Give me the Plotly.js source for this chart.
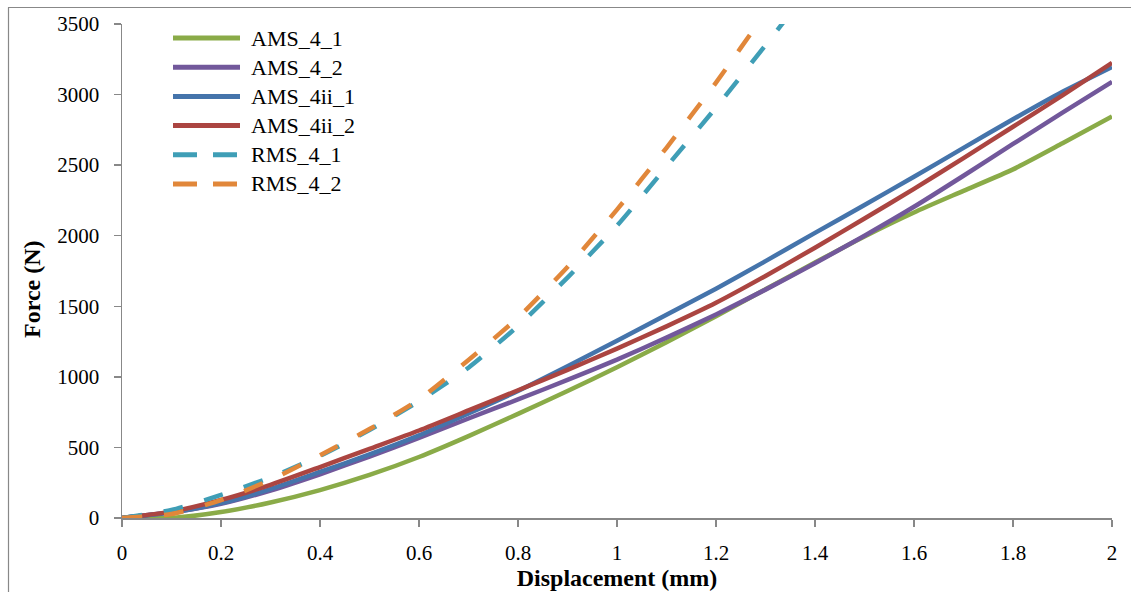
<!DOCTYPE html>
<html>
<head>
<meta charset="utf-8">
<script src="https://cdn.plot.ly/plotly-3.0.1.min.js"></script>
<style>
  html, body { margin: 0; padding: 0; background: #ffffff; }
  #chart { width: 1131px; height: 592px; }
</style>
</head>
<body>
<div id="chart"></div>
<script>
// Force–displacement curves of the AMS and RMS specimens
const seriesNames = ['AMS_4_1', 'AMS_4_2', 'AMS_4ii_1', 'AMS_4ii_2', 'RMS_4_1', 'RMS_4_2'];

// Displacement (mm) sampling of the AMS tests
const dispAms = [0, 0.1, 0.2, 0.3, 0.4, 0.5, 0.6, 0.7, 0.8, 0.9, 1.0,
                 1.1, 1.2, 1.3, 1.4, 1.5, 1.6, 1.7, 1.8, 1.9, 2.0];
// Displacement (mm) sampling of the RMS tests
const dispRms = [0, 0.1, 0.2, 0.3, 0.4, 0.5, 0.6, 0.7, 0.8, 0.9, 1.0,
                 1.1, 1.2, 1.3, 1.4];

// Force (N)
const forceAms4_1   = [0, 0, 42, 110, 198, 305, 432, 580, 738, 900, 1068,
                       1245, 1430, 1620, 1810, 1995, 2165, 2318, 2470, 2655, 2845];
const forceAms4_2   = [0, 40, 100, 195, 310, 435, 567, 705, 840, 978, 1122,
                       1278, 1442, 1618, 1805, 2000, 2205, 2425, 2650, 2872, 3090];
const forceAms4ii_1 = [0, 40, 105, 205, 326, 450, 585, 740, 900, 1075, 1255,
                       1440, 1625, 1820, 2020, 2218, 2418, 2622, 2825, 3020, 3196];
const forceAms4ii_2 = [0, 45, 128, 235, 361, 490, 620, 762, 905, 1050, 1200,
                       1358, 1525, 1715, 1915, 2122, 2332, 2550, 2772, 2995, 3225];
const forceRms4_1   = [0, 57, 164, 288, 440, 623, 828, 1065, 1361, 1703, 2071,
                       2489, 2908, 3350, 3800];
const forceRms4_2   = [0, 28, 127, 270, 445, 630, 840, 1120, 1420, 1779, 2185,
                       2623, 3085, 3580, 4080];

const xTickVals = [0, 0.2, 0.4, 0.6, 0.8, 1, 1.2, 1.4, 1.6, 1.8, 2];
const xTickText = ['0', '0.2', '0.4', '0.6', '0.8', '1', '1.2', '1.4', '1.6', '1.8', '2'];
const yTickVals = [0, 500, 1000, 1500, 2000, 2500, 3000, 3500];
const yTickText = ['0', '500', '1000', '1500', '2000', '2500', '3000', '3500'];

const colors = ['#8aab48', '#72589b', '#4574ab', '#ab4541', '#3f9eb6', '#e1873a'];
const dashes = ['solid', 'solid', 'solid', 'solid', '20px,22px', '20px,22px'];

const xs = [dispAms, dispAms, dispAms, dispAms, dispRms, dispRms];
const ys = [forceAms4_1, forceAms4_2, forceAms4ii_1, forceAms4ii_2, forceRms4_1, forceRms4_2];

const FONT = 'Liberation Serif, Times New Roman, serif';
const AXIS_GREY = '#888888';

const traces = seriesNames.map((name, i) => ({
  type: 'scatter',
  mode: 'lines',
  name: name,
  x: xs[i],
  y: ys[i],
  line: { color: colors[i], width: 4.5, dash: dashes[i], shape: 'spline', smoothing: 0.6 },
  showlegend: false,
  hoverinfo: 'skip'
}));

// Figure geometry (pixels)
const W = 1131, H = 592;
const M = { l: 122, r: 19, t: 24, b: 74 };
const PW = W - M.l - M.r, PH = H - M.t - M.b;
const px2x = (px) => (px - M.l) / PW;
const px2y = (py) => (H - M.b - py) / PH;

// Key inside the plot area, upper left
const shapes = [];
const annotations = [];
seriesNames.forEach((name, i) => {
  const yy = px2y(38 + i * 29.2);
  shapes.push({
    type: 'line', xref: 'paper', yref: 'paper',
    x0: px2x(173), x1: px2x(240), y0: yy, y1: yy,
    line: { color: colors[i], width: 5, dash: i >= 4 ? '24px,16px' : 'solid' }
  });
  annotations.push({
    xref: 'paper', yref: 'paper', x: px2x(249), y: yy,
    xanchor: 'left', yanchor: 'middle', showarrow: false,
    text: name, font: { family: FONT, size: 22, color: '#000000' }
  });
});

// Vertical axis title
annotations.push({
  xref: 'paper', yref: 'paper', x: px2x(32), y: px2y(289),
  xanchor: 'center', yanchor: 'middle', showarrow: false, textangle: -90,
  text: '<b>Force (N)</b>', font: { family: FONT, size: 24, color: '#000000' }
});

// Outer chart frame
shapes.push({
  type: 'line', xref: 'paper', yref: 'paper',
  x0: px2x(8.5), x1: px2x(8.5), y0: px2y(7.5), y1: px2y(600),
  line: { color: AXIS_GREY, width: 1.2 }
});
shapes.push({
  type: 'line', xref: 'paper', yref: 'paper',
  x0: px2x(8), x1: px2x(1140), y0: px2y(7.5), y1: px2y(7.5),
  line: { color: AXIS_GREY, width: 1.2 }
});

const layout = {
  width: W, height: H,
  margin: M,
  paper_bgcolor: '#ffffff',
  plot_bgcolor: '#ffffff',
  font: { family: FONT, size: 21, color: '#000000' },
  showlegend: false,
  xaxis: {
    range: [0, 2],
    tickmode: 'array', tickvals: xTickVals, ticktext: xTickText,
    showgrid: false, zeroline: false,
    showline: true, linecolor: AXIS_GREY, linewidth: 1.5,
    ticks: 'outside', ticklen: 7, tickwidth: 1.5, tickcolor: AXIS_GREY,
    ticklabelstandoff: 8,
    tickfont: { family: FONT, size: 21, color: '#000000' },
    title: { text: '<b>Displacement (mm)</b>', standoff: 5,
             font: { family: FONT, size: 24, color: '#000000' } }
  },
  yaxis: {
    range: [0, 3500],
    tickmode: 'array', tickvals: yTickVals, ticktext: yTickText,
    showgrid: false, zeroline: false,
    showline: true, linecolor: AXIS_GREY, linewidth: 1.5,
    ticks: 'outside', ticklen: 7, tickwidth: 1.5, tickcolor: AXIS_GREY,
    ticklabelstandoff: 10,
    tickfont: { family: FONT, size: 21, color: '#000000' }
  },
  shapes: shapes,
  annotations: annotations
};

Plotly.newPlot('chart', traces, layout, { displayModeBar: false, staticPlot: true });
</script>
</body>
</html>
